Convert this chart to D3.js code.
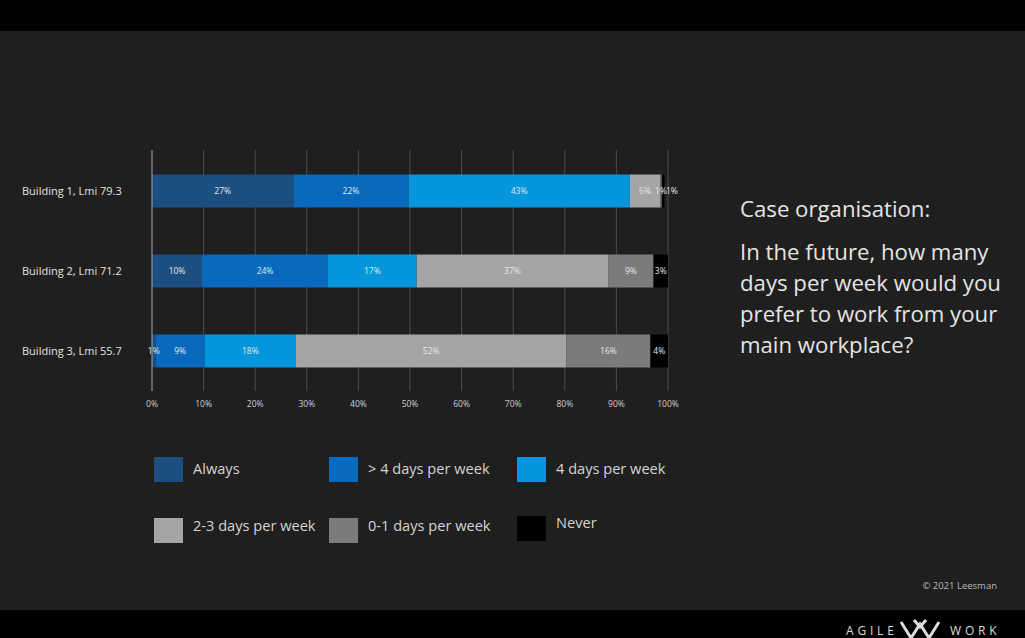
<!DOCTYPE html>
<html>
<head>
<meta charset="utf-8">
<script src="https://cdn.jsdelivr.net/npm/d3@7"></script>
<style>
  html, body { margin: 0; padding: 0; background: #000; }
  svg { display: block; }
</style>
</head>
<body>
<svg id="chart" width="1025" height="638"></svg>
<script>
// ---- data ----
const categories = ["Building 1, Lmi 79.3", "Building 2, Lmi 71.2", "Building 3, Lmi 55.7"];
const seriesNames = ["Always", "> 4 days per week", "4 days per week", "2-3 days per week", "0-1 days per week", "Never"];
const always     = [27.4,  9.7,  0.7];
const moreThan4  = [22.3, 24.4,  9.5];
const fourDays   = [42.9, 17.2, 17.7];
const twoThree   = [ 5.9, 37.1, 52.4];
const zeroOne    = [ 0.3,  8.8, 16.3];
const never      = [ 0.5,  2.8,  3.4];
// printed labels (rounded percentages as shown on the slide)
const alwaysLbl    = [27, 10, 1];
const moreThan4Lbl = [22, 24, 9];
const fourDaysLbl  = [43, 17, 18];
const twoThreeLbl  = [6, 37, 52];
const zeroOneLbl   = [1, 9, 16];
const neverLbl     = [1, 3, 4];
const tickValues = [0, 10, 20, 30, 40, 50, 60, 70, 80, 90, 100];
const titleLines = ["Case organisation:"];
const questionLines = ["In the future, how many", "days per week would you", "prefer to work from your", "main workplace?"];

const seriesValues = [always, moreThan4, fourDays, twoThree, zeroOne, never];
const seriesLabels = [alwaysLbl, moreThan4Lbl, fourDaysLbl, twoThreeLbl, zeroOneLbl, neverLbl];
const colors = ["#1c4f80", "#0869bd", "#0696dc", "#a5a5a5", "#7b7b7b", "#000000"];

const rows = categories.map((c, i) => {
  const r = { cat: c };
  seriesNames.forEach((s, k) => { r[s] = seriesValues[k][i]; });
  return r;
});

// ---- drawing ----
const svg = d3.select("#chart");
svg.append("rect").attr("x", 0).attr("y", 0).attr("width", 1025).attr("height", 638).attr("fill", "#1f1f1f");
svg.append("rect").attr("x", 0).attr("y", 0).attr("width", 1025).attr("height", 31).attr("fill", "#020202");
svg.append("rect").attr("x", 0).attr("y", 610).attr("width", 1025).attr("height", 28).attr("fill", "#000");

const x = d3.scaleLinear().domain([0, 100]).range([152, 668]);
const y = d3.scaleBand().domain(categories).range([151, 391]).paddingInner(0.5875).paddingOuter(0.294);

const g = svg.append("g");
g.selectAll("line.grid").data(tickValues.slice(1)).join("line")
  .attr("class", "grid")
  .attr("x1", d => x(d)).attr("x2", d => x(d))
  .attr("y1", 150).attr("y2", 391)
  .attr("stroke", "#4e4e4e").attr("stroke-width", 1);

g.selectAll("text.tick").data(tickValues).join("text")
  .attr("class", "tick")
  .attr("x", d => x(d)).attr("y", 407)
  .attr("text-anchor", "middle")
  .attr("font-family", "'Open Sans', sans-serif")
  .attr("font-size", 8.5)
  .attr("fill", "#cfcfcf")
  .text(d => d + "%");

const stack = d3.stack().keys(seriesNames);
const stacked = stack(rows);
const layers = g.selectAll("g.layer").data(stacked).join("g")
  .attr("class", "layer")
  .attr("fill", (d, i) => colors[i]);
layers.selectAll("rect").data(d => d).join("rect")
  .attr("x", d => x(d[0]))
  .attr("width", d => x(d[1]) - x(d[0]))
  .attr("y", d => y(d.data.cat))
  .attr("height", y.bandwidth());

g.append("line")
  .attr("x1", x(0)).attr("x2", x(0)).attr("y1", 150).attr("y2", 391)
  .attr("stroke", "#a8a8a8").attr("stroke-width", 1);

// segment labels, with simple left-to-right collision nudging per row
const labelItems = [];
stacked.forEach((layer, k) => {
  layer.forEach((d, i) => {
    labelItems.push({ row: i, cat: d.data.cat, cx: x((d[0] + d[1]) / 2), text: seriesLabels[k][i] + "%" });
  });
});
const labelW = t => t.length * 4.9;
categories.forEach((c, i) => {
  const items = labelItems.filter(l => l.row === i).sort((a, b) => a.cx - b.cx);
  let lastRight = -Infinity;
  items.forEach(l => {
    const w = labelW(l.text);
    let left = l.cx - w / 2;
    if (left < lastRight + 1) left = lastRight + 1;
    l.px = left + w / 2;
    lastRight = left + w;
  });
});
g.selectAll("text.seg").data(labelItems).join("text")
  .attr("class", "seg")
  .attr("x", d => d.px)
  .attr("y", d => y(d.cat) + y.bandwidth() / 2)
  .attr("dy", "0.35em")
  .attr("text-anchor", "middle")
  .attr("font-family", "'Open Sans', sans-serif")
  .attr("font-size", 8.5)
  .attr("fill", "#e6e6e6")
  .text(d => d.text);

g.selectAll("text.cat").data(categories).join("text")
  .attr("class", "cat")
  .attr("x", 22)
  .attr("y", d => y(d) + y.bandwidth() / 2)
  .attr("dy", "0.35em")
  .attr("font-family", "'Open Sans', sans-serif")
  .attr("font-size", 11)
  .attr("fill", "#e2e2e2")
  .text(d => d);

// legend
const legendPos = [
  { sx: 154, sy: 457, tx: 193, ty: 469 },
  { sx: 329, sy: 457, tx: 368, ty: 469 },
  { sx: 517, sy: 457, tx: 556, ty: 469 },
  { sx: 154, sy: 518, tx: 193, ty: 526 },
  { sx: 329, sy: 518, tx: 368, ty: 526 },
  { sx: 517, sy: 516, tx: 556, ty: 523 }
];
const leg = svg.append("g");
seriesNames.forEach((s, i) => {
  const p = legendPos[i];
  leg.append("rect").attr("x", p.sx).attr("y", p.sy).attr("width", 29).attr("height", 25).attr("fill", colors[i]);
  leg.append("text").attr("x", p.tx).attr("y", p.ty).attr("dy", "0.35em")
    .attr("font-family", "'Open Sans', sans-serif").attr("font-size", 14.6)
    .attr("fill", "#d4d4d4").text(s);
});

// right-hand text
const rt = svg.append("g").attr("font-family", "'Open Sans', sans-serif").attr("fill", "#e4e4e4").attr("font-size", 22.2);
rt.selectAll("text.t").data(titleLines).join("text").attr("class", "t")
  .attr("x", 740).attr("y", 217).text(d => d);
rt.selectAll("text.q").data(questionLines).join("text").attr("class", "q")
  .attr("x", 740).attr("y", (d, i) => 260 + i * 31).text(d => d);

// footer
svg.append("text").attr("x", 997).attr("y", 589).attr("text-anchor", "end")
  .attr("font-family", "'Open Sans', sans-serif").attr("font-size", 9.5)
  .attr("fill", "#b8b8b8").text("© 2021 Leesman");

const ft = svg.append("g").attr("font-family", "'Open Sans', sans-serif").attr("font-size", 12)
  .attr("fill", "#dcdcdc").attr("letter-spacing", 3.8);
ft.append("text").attr("x", 846).attr("y", 635).text("AGILE");
ft.append("text").attr("x", 950).attr("y", 635).text("WORK");
svg.append("path")
  .attr("d", "M901,622 L911,638 M911,638 L920,624 L929,638 M929,638 L939,622 M914,620 L920,627 L926,620")
  .attr("stroke", "#dcdcdc").attr("stroke-width", 3).attr("fill", "none");
</script>
</body>
</html>
